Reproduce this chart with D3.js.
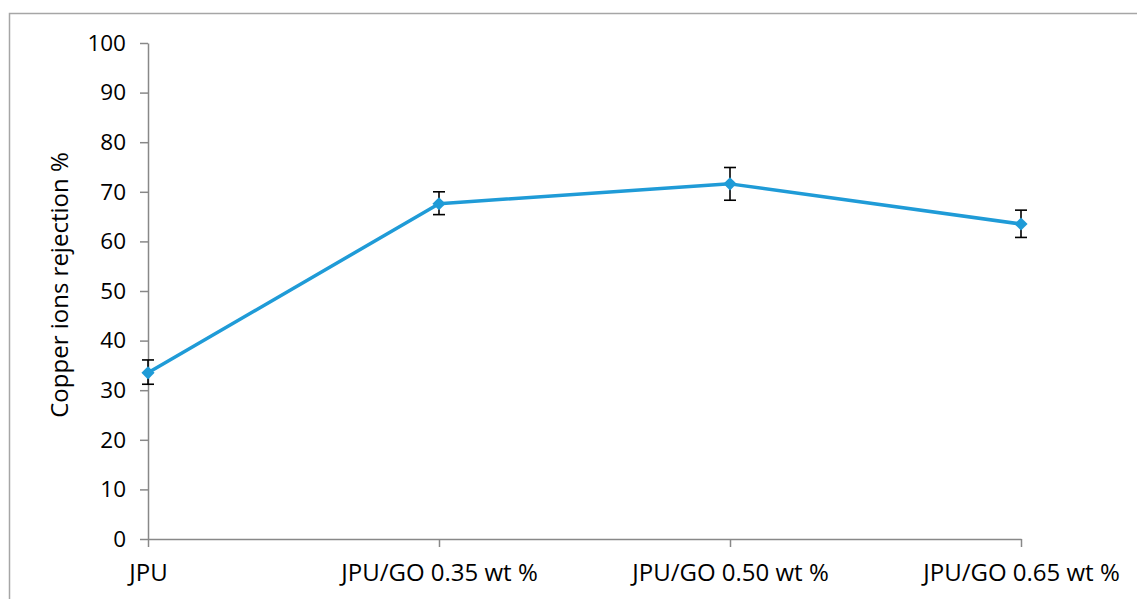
<!DOCTYPE html>
<html>
<head>
<meta charset="utf-8">
<script src="https://cdn.jsdelivr.net/npm/d3@7"></script>
<style>
  html, body { margin: 0; padding: 0; background: #fff; }
  svg { display: block; }
  text { font-family: "Open Sans", sans-serif; fill: #000; }
</style>
</head>
<body>
<svg id="chart" width="1137" height="599"></svg>
<script>
// Copper ion rejection for each membrane composition
const categories = ["JPU", "JPU/GO 0.35 wt %", "JPU/GO 0.50 wt %", "JPU/GO 0.65 wt %"];
const rejection = [33.5, 67.6, 71.6, 63.5];
const errorTop = [36.1, 70.0, 74.9, 66.3];
const errorBottom = [31.2, 65.4, 68.3, 60.8];
const yTicks = [0, 10, 20, 30, 40, 50, 60, 70, 80, 90, 100];

const svg = d3.select("#chart");
const W = 1137, H = 599;
const plotLeft = 148, plotRight = 1021, plotTop = 43, plotBottom = 539;
const fontFamily = "'Open Sans', sans-serif";

// chart area border
svg.append("rect")
  .attr("x", 9.5).attr("y", 13.5)
  .attr("width", W + 20).attr("height", H + 20)
  .attr("fill", "none").attr("stroke", "#a6a6a6").attr("stroke-width", 1.5);

const x = d3.scalePoint().domain(categories).range([plotLeft, plotRight]);
const y = d3.scaleLinear().domain([0, 100]).range([plotBottom, plotTop]);

const axisColor = "#888";

// y axis
const yAxis = svg.append("g")
  .attr("transform", `translate(${plotLeft},0)`)
  .call(d3.axisLeft(y).tickValues(yTicks).tickSize(8).tickSizeOuter(0).tickPadding(14));
yAxis.select(".domain").attr("stroke", axisColor).attr("stroke-width", 1.5);
yAxis.selectAll(".tick line").attr("stroke", axisColor).attr("stroke-width", 1.5);
yAxis.selectAll(".tick text")
  .style("font-family", fontFamily)
  .style("font-size", "22.5px").attr("fill", "#000");

// x axis
const xAxis = svg.append("g")
  .attr("transform", `translate(0,${plotBottom})`)
  .call(d3.axisBottom(x).tickSize(8).tickSizeOuter(0).tickPadding(17));
xAxis.select(".domain").attr("stroke", axisColor).attr("stroke-width", 1.5);
xAxis.selectAll(".tick line").attr("stroke", axisColor).attr("stroke-width", 1.5);
xAxis.selectAll(".tick text")
  .style("font-family", fontFamily)
  .style("font-size", "24px").attr("fill", "#000");

// y axis title
svg.append("text")
  .attr("transform", `translate(68,285) rotate(-90)`)
  .attr("text-anchor", "middle")
  .style("font-family", fontFamily)
  .style("font-size", "24px")
  .text("Copper ions rejection %");

const lineColor = "#1f9bd7";

// series line
const line = d3.line().x((d, i) => x(categories[i])).y(d => y(d));
svg.append("path")
  .datum(rejection)
  .attr("d", line)
  .attr("fill", "none")
  .attr("stroke", lineColor)
  .attr("stroke-width", 3.5)
  .attr("stroke-linejoin", "round");

// error bars
const eb = svg.append("g").attr("stroke", "#000").attr("stroke-width", 1.6);
categories.forEach((c, i) => {
  const cx = x(c);
  eb.append("line").attr("x1", cx).attr("x2", cx).attr("y1", y(errorTop[i])).attr("y2", y(errorBottom[i]));
  eb.append("line").attr("x1", cx - 6).attr("x2", cx + 6).attr("y1", y(errorTop[i])).attr("y2", y(errorTop[i]));
  eb.append("line").attr("x1", cx - 6).attr("x2", cx + 6).attr("y1", y(errorBottom[i])).attr("y2", y(errorBottom[i]));
});

// diamond markers
const diamond = d3.symbol().type(d3.symbolDiamond2).size(110);
svg.append("g").selectAll("path")
  .data(rejection)
  .join("path")
  .attr("transform", (d, i) => `translate(${x(categories[i])},${y(d)})`)
  .attr("d", diamond)
  .attr("fill", lineColor);
</script>
</body>
</html>
